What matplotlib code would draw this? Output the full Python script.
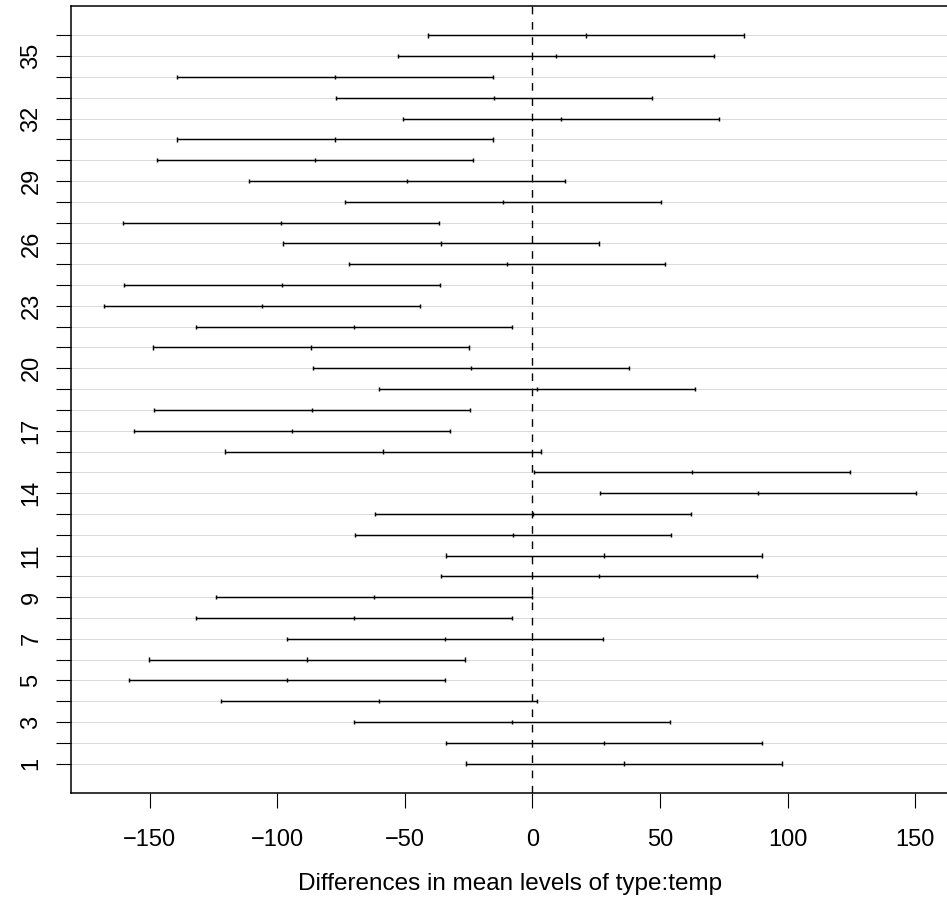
import matplotlib
matplotlib.use("Agg")
import matplotlib.pyplot as plt
import numpy as np

# Tukey HSD intervals, rows 1..36 (bottom to top)
rows = list(range(1, 37))
diff = [35.9, 28.1, -8.0, -60.0, -96.1, -88.2, -34.2, -70.1, -62.1, 26.0,
        28.2, -7.7, 0.2, 88.4, 62.6, -58.5, -94.4, -86.4, 1.8, -24.1,
        -86.7, -70.1, -106.1, -98.2, -9.9, -35.9, -98.4, -11.6, -49.1, -85.1,
        -77.2, 11.0, -15.0, -77.3, 9.3, 21.0]
lwr = [-26.0, -33.8, -69.9, -121.9, -158.0, -150.1, -96.1, -132.0, -124.0, -35.9,
       -33.7, -69.6, -61.7, 26.5, 0.7, -120.4, -156.3, -148.3, -60.1, -86.0,
       -148.6, -132.0, -168.0, -160.1, -71.8, -97.8, -160.3, -73.5, -111.0, -147.0,
       -139.1, -50.9, -76.9, -139.2, -52.6, -40.9]
upr = [97.8, 90.0, 53.9, 1.9, -34.2, -26.3, 27.7, -8.2, -0.2, 87.9,
       90.1, 54.2, 62.1, 150.3, 124.5, 3.4, -32.5, -24.5, 63.7, 37.8,
       -24.8, -8.2, -44.2, -36.3, 52.0, 26.0, -36.5, 50.3, 12.8, -23.2,
       -15.3, 72.9, 46.9, -15.4, 71.2, 82.9]
shown_labels = [1, 3, 5, 7, 9, 11, 14, 17, 20, 23, 26, 29, 32, 35]
x_ticks = [-150, -100, -50, 0, 50, 100, 150]

plt.rcParams['font.family'] = ['Liberation Sans', 'DejaVu Sans']

W, H = 947, 915
fig = plt.figure(figsize=(W / 100, H / 100), dpi=100)
ax = fig.add_axes([71.3 / W, 1 - 792.7 / H, 877.2 / W, (792.7 - 6.3) / H])

y = np.array(rows)
ax.hlines(y, -180.7, 163.0, colors='#d3d3d3', lw=0.6, zorder=1)
ax.hlines(y, lwr, upr, colors='black', lw=1.05, zorder=3)
for vals in (lwr, diff, upr):
    ax.vlines(vals, y - 0.1, y + 0.1, colors='black', lw=1.05, zorder=3)
ax.axvline(0, color='black', lw=1.0, ls=(0, (5.5, 5.5)), zorder=2)

ax.set_xlim(-180.7, 163.0)
ax.set_ylim(-0.4, 37.4)

ax.set_xticks(x_ticks)
ax.set_xticklabels(['\u2212' + str(-v) if v < 0 else str(v) for v in x_ticks])
ax.set_yticks(rows)
ax.set_yticklabels([str(r) if r in shown_labels else '' for r in rows],
                   rotation=90, va='center')
ax.tick_params(axis='both', length=10.8, width=0.8, labelsize=17, color='black')
ax.tick_params(axis='x', pad=15.5)
ax.tick_params(axis='y', pad=10)

for s in ax.spines.values():
    s.set_linewidth(1.1)
ax.spines['right'].set_visible(False)

ax.set_xlabel('Differences in mean levels of type:temp', fontsize=17.5, labelpad=16)

fig.savefig('out.png', dpi=100)
